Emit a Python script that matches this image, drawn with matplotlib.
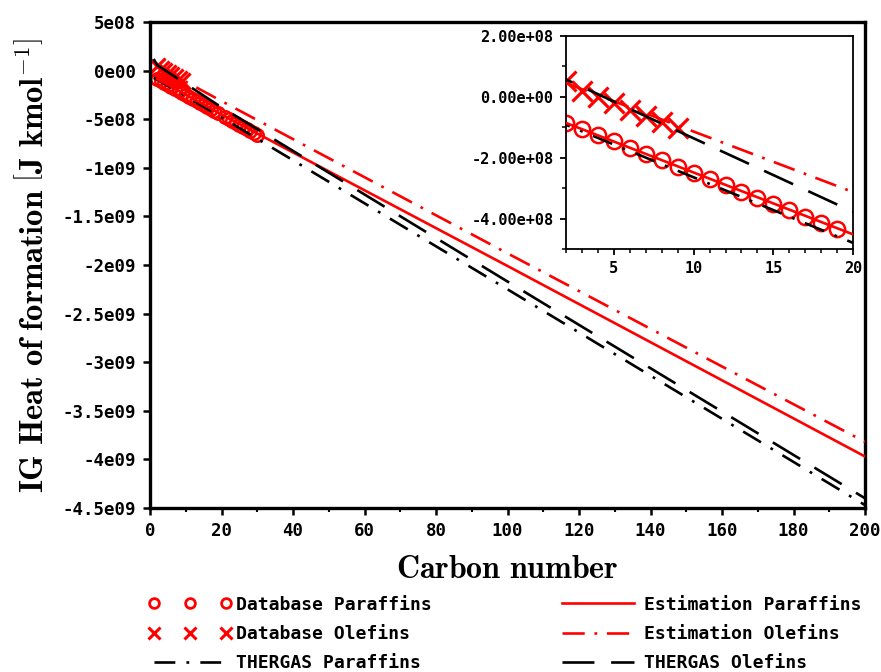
import matplotlib
matplotlib.use("Agg")
import matplotlib.pyplot as plt
from matplotlib.ticker import FixedLocator, FixedFormatter, MultipleLocator
from matplotlib.legend_handler import HandlerLine2D

# ---------------- data ----------------
# database values (J/kmol)
db_par_c = [2, 3, 4, 5, 6, 7, 8, 9, 10, 11, 12, 13, 14, 15, 16, 17, 18, 19,
            21, 22, 23, 24, 25, 26, 27, 28, 29, 30]
db_par = [-0.847e8, -1.047e8, -1.260e8, -1.468e8, -1.672e8, -1.878e8, -2.084e8,
          -2.290e8, -2.497e8, -2.703e8, -2.909e8, -3.115e8, -3.321e8, -3.528e8,
          -3.734e8, -3.940e8, -4.146e8, -4.352e8,
          -4.760e8, -4.970e8, -5.180e8, -5.380e8, -5.590e8, -5.790e8, -6.000e8,
          -6.210e8, -6.410e8, -6.620e8]
db_ole_c = [2, 3, 4, 5, 6, 7, 8, 9]
db_ole = [0.525e8, 0.200e8, -0.010e8, -0.213e8, -0.417e8, -0.623e8, -0.829e8, -1.035e8]

# group-contribution estimates
est_par_c = [2, 20, 100, 200]
est_par = [-0.86e8, -4.52e8, -2.01e9, -3.97e9]
est_ole_c = [2, 20, 100, 200]
est_ole = [0.45e8, -3.13e8, -1.88e9, -3.82e9]

# THERGAS predictions
th_par_c = [1, 2, 20, 100, 200]
th_par = [-0.75e8, -0.92e8, -4.80e8, -2.25e9, -4.47e9]
th_ole_c = [1, 2, 20, 100, 200]
th_ole = [1.20e8, 0.57e8, -3.78e8, -2.17e9, -4.40e9]

labels = ["Database Paraffins", "Database Olefins", "THERGAS Paraffins",
          "Estimation Paraffins", "Estimation Olefins", "THERGAS Olefins"]

main_yticks = [5e8, 0, -5e8, -1e9, -1.5e9, -2e9, -2.5e9, -3e9, -3.5e9, -4e9, -4.5e9]
main_ylabels = ["5e08", "0e00", "-5e08", "-1e09", "-1.5e09", "-2e09", "-2.5e09",
                "-3e09", "-3.5e09", "-4e09", "-4.5e09"]
main_xticks = [0, 20, 40, 60, 80, 100, 120, 140, 160, 180, 200]
ins_yticks = [2e8, 0, -2e8, -4e8]
ins_ylabels = ["2.00e+08", "0.00e+00", "-2.00e+08", "-4.00e+08"]
ins_xticks = [5, 10, 15, 20]

# ---------------- style ----------------
plt.rcParams["mathtext.fontset"] = "cm"
plt.rcParams["lines.scale_dashes"] = False
tick_font = dict(family="DejaVu Sans Mono", weight="bold")

RED = "#ff0000"
LW = 1.9
DASH_EST_OLE = (0, (16, 7, 2, 7))
DASH_TH_PAR = (0, (15, 8, 2, 8))
DASH_TH_OLE = (0, (23, 12))


def draw(ax, ms_o, ms_x):
    ax.plot(db_par_c, db_par, ls="none", marker="o", ms=ms_o, mfc="none",
            mec=RED, mew=1.8, zorder=2)
    ax.plot(db_ole_c, db_ole, ls="none", marker="x", ms=ms_x, mec=RED,
            mew=2.3, zorder=2)
    ax.plot(th_par_c, th_par, color="black", lw=LW, ls=DASH_TH_PAR, zorder=3)
    ax.plot(est_par_c, est_par, color=RED, lw=LW, ls="-", zorder=3)
    ax.plot(est_ole_c, est_ole, color=RED, lw=LW, ls=DASH_EST_OLE, zorder=3)
    ax.plot(th_ole_c, th_ole, color="black", lw=LW, ls=DASH_TH_OLE, zorder=3)


fig = plt.figure(figsize=(8.81, 6.72), dpi=100)

# ---------------- main axes ----------------
ax = fig.add_axes([0.1703, 0.244, 0.8116, 0.7232])
draw(ax, 9, 12)
ax.set_xlim(0, 200)
ax.set_ylim(-4.5e9, 5e8)
ax.xaxis.set_major_locator(FixedLocator(main_xticks))
ax.xaxis.set_minor_locator(MultipleLocator(10))
ax.yaxis.set_major_locator(FixedLocator(main_yticks))
ax.yaxis.set_major_formatter(FixedFormatter(main_ylabels))
ax.tick_params(which="major", direction="out", length=5, width=1.8, pad=5)
ax.tick_params(which="minor", direction="out", length=3, width=1.5)
for lab in ax.get_xticklabels() + ax.get_yticklabels():
    lab.set_fontproperties(tick_font)
    lab.set_fontsize(12.5)
for s in ax.spines.values():
    s.set_linewidth(2.4)

ax.set_xlabel(r"$\mathbf{Carbon\ number}$", fontsize=23, labelpad=10)
ax.set_ylabel(r"$\mathbf{IG\ Heat\ of\ formation}\ \left[\mathbf{J\ kmol^{-1}}\right]$",
              fontsize=23.5, labelpad=9)

# ---------------- legend ----------------
h_db_par = plt.Line2D([], [], ls="none", marker="o", ms=7, mfc="none", mec=RED, mew=2)
h_db_ole = plt.Line2D([], [], ls="none", marker="x", ms=9, mec=RED, mew=2.2)
h_th_par = plt.Line2D([], [], color="black", lw=LW, ls=DASH_TH_PAR)
h_est_par = plt.Line2D([], [], color=RED, lw=LW, ls="-")
h_est_ole = plt.Line2D([], [], color=RED, lw=LW, ls=DASH_EST_OLE)
h_th_ole = plt.Line2D([], [], color="black", lw=LW, ls=DASH_TH_OLE)
leg = ax.legend([h_db_par, h_db_ole, h_th_par, h_est_par, h_est_ole, h_th_ole],
                labels, ncol=2, loc="upper center", bbox_to_anchor=(0.5, -0.147),
                frameon=False, numpoints=3, handlelength=4.0, handletextpad=0.55,
                columnspacing=7.2, labelspacing=0.62,
                prop=dict(family="DejaVu Sans Mono", weight="bold", size=13),
                handler_map={plt.Line2D: HandlerLine2D(marker_pad=0.0)})

# ---------------- inset ----------------
ins = fig.add_axes([0.6425, 0.6295, 0.3258, 0.317])
draw(ins, 11, 14)
ins.set_xlim(2, 20)
ins.set_ylim(-5e8, 2e8)
ins.xaxis.set_major_locator(FixedLocator(ins_xticks))
ins.xaxis.set_minor_locator(MultipleLocator(1))
ins.yaxis.set_major_locator(FixedLocator(ins_yticks))
ins.yaxis.set_major_formatter(FixedFormatter(ins_ylabels))
ins.yaxis.set_minor_locator(MultipleLocator(1e8))
ins.tick_params(which="major", direction="out", length=4, width=1.3, pad=5)
ins.tick_params(which="minor", direction="out", length=3, width=1.1)
for lab in ins.get_xticklabels() + ins.get_yticklabels():
    lab.set_fontproperties(tick_font)
    lab.set_fontsize(11)
for s in ins.spines.values():
    s.set_linewidth(1.3)

fig.savefig("out.png", dpi=100)
